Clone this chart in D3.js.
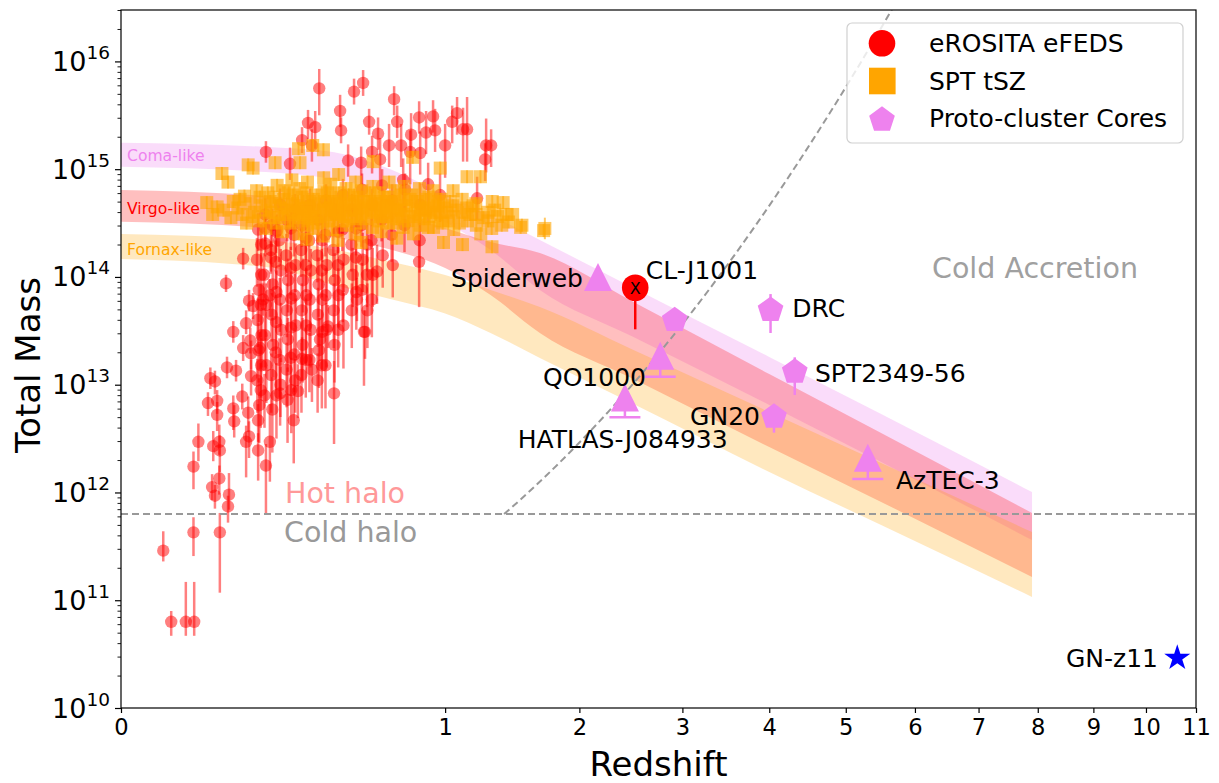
<!DOCTYPE html>
<html><head><meta charset="utf-8">
<script src="https://cdn.jsdelivr.net/npm/d3@7"></script>
<style>body{margin:0;background:#fff}svg{font-family:"DejaVu Sans",sans-serif}</style>
</head><body><svg id="c" width="1219" height="783"></svg>
<script>
// ---------- data ----------
const xTicks = [0,1,2,3,4,5,6,7,8,9,10,11];
const yTickExps = [10,11,12,13,14,15,16];

// progenitor mass bands (log10 M) sampled at redshifts bandZ
const bandZ   = [0, 0.2, 0.4, 0.7, 1.0, 1.3, 1.67, 2.5, 4, 5.5, 7.9];
const comaHi  = [15.246,15.206,15.168,14.992,14.760,14.575,14.343,13.897,13.257,12.728,12.004];
const comaLo  = [15.023,14.974,14.918,14.760,14.510,14.250,13.879,13.443,12.812,12.283,11.559];
const virgoHi = [14.807,14.751,14.695,14.603,14.454,14.324,14.222,13.767,13.099,12.552,11.810];
const virgoLo = [14.513,14.454,14.380,14.250,14.083,13.832,13.480,13.053,12.422,11.912,11.216];
const fornaxHi= [14.398,14.343,14.268,14.139,14.018,13.879,13.721,13.322,12.747,12.274,11.633];
const fornaxLo= [14.166,14.092,13.944,13.790,13.660,13.480,13.248,12.821,12.190,11.698,11.030];

// eROSITA eFEDS clusters: [z, log10 M, err down (dex), err up (dex)]
const erosita = [
[0.017,11.46,0.10,0.18],[0.024,10.80,0.13,0.10],[0.040,10.80,0.13,0.37],[0.051,10.80,0.13,0.37],
[0.050,11.63,0.22,0.14],[0.050,12.24,0.21,0.14],[0.057,12.47,0.18,0.17],[0.076,13.06,0.10,0.10],
[0.084,13.03,0.12,0.10],[0.072,12.83,0.12,0.10],[0.088,12.85,0.12,0.10],[0.088,12.72,0.15,0.12],
[0.081,12.43,0.14,0.14],[0.092,12.47,0.12,0.16],[0.093,12.39,0.20,0.14],[0.079,12.05,0.12,0.12],
[0.084,11.97,0.12,0.10],[0.092,12.13,0.15,0.12],[0.111,11.98,0.14,0.20],[0.109,11.87,0.15,0.10],
[0.093,11.63,0.56,0.18],[0.107,13.16,0.10,0.10],[0.126,13.13,0.10,0.10],[0.120,13.49,0.10,0.10],
[0.105,13.94,0.08,0.08],[0.120,12.78,0.20,0.12],[0.122,12.66,0.15,0.15],[0.140,12.89,0.12,0.12],
[0.142,13.34,0.12,0.12],[0.149,13.57,0.10,0.12],[0.149,12.47,0.33,0.15],[0.159,13.41,0.12,0.12],
[0.161,13.29,0.15,0.12],[0.161,13.08,0.18,0.15],[0.156,13.78,0.10,0.10],[0.166,13.73,0.12,0.12],
[0.154,12.74,0.18,0.15],[0.156,12.52,0.20,0.14],[0.179,12.67,0.20,0.15],[0.179,12.39,0.28,0.16],
[0.200,12.25,0.45,0.20],[0.211,12.47,0.37,0.35],[0.184,13.34,0.20,0.15],[0.192,13.79,0.15,0.15],
[0.211,13.83,0.20,0.15],[0.241,12.92,0.30,0.25],[0.298,12.94,0.25,0.25],[0.432,12.92,0.47,0.30],
[0.347,13.14,0.30,0.20],[0.312,13.24,0.20,0.20],[0.377,13.42,0.20,0.20],[0.567,13.49,0.25,0.20],
[0.408,13.54,0.20,0.20],[0.530,13.79,0.20,0.20],
[0.374,15.75,0.25,0.18],[0.517,15.72,0.12,0.12],[0.558,15.80,0.12,0.12],[0.710,15.65,0.15,0.12],
[0.457,15.54,0.15,0.15],[0.461,15.36,0.12,0.12],[0.586,15.44,0.12,0.12],[0.726,15.44,0.15,0.15],
[0.629,15.33,0.15,0.15],[0.333,15.43,0.15,0.12],[0.359,15.39,0.20,0.15],[0.312,15.27,0.12,0.12],
[0.347,15.22,0.15,0.15],[0.846,15.48,0.15,0.15],[0.927,15.49,0.15,0.15],[1.075,15.52,0.20,0.15],
[1.044,15.44,0.20,0.15],[0.939,15.36,0.20,0.20],[1.114,15.37,0.30,0.20],[1.140,15.37,0.30,0.30],
[0.886,15.34,0.20,0.20],[0.801,15.32,0.20,0.20],[1.000,15.22,0.30,0.20],[0.684,15.22,0.20,0.20],
[0.747,15.22,0.20,0.20],[1.269,15.22,0.25,0.25],[1.304,15.22,0.20,0.15],[1.262,15.09,0.20,0.15],
[0.600,15.16,0.20,0.15],[0.796,15.16,0.30,0.20],[0.852,15.15,0.20,0.20],[0.639,15.09,0.25,0.20],
[0.491,15.08,0.15,0.15],[0.549,15.06,0.20,0.15],[0.200,15.16,0.10,0.10],[0.272,15.05,0.15,0.15],
[0.142,14.17,0.10,0.10],[0.198,14.45,0.12,0.12],[0.198,14.31,0.12,0.12],[0.214,14.18,0.15,0.15],
[0.232,14.43,0.15,0.15],[0.846,14.14,0.42,0.25],[1.207,14.73,0.20,0.20],[0.898,14.86,0.35,0.20],
[0.758,14.90,0.30,0.20],[0.562,13.49,0.50,0.20],[0.624,14.05,0.30,0.25],
[0.179,14.44,0.20,0.15],[0.176,14.16,0.25,0.20],[0.181,13.88,0.30,0.20],[0.178,13.60,0.25,0.20],[0.180,13.32,0.30,0.25],[0.177,13.04,0.30,0.20],[0.182,12.81,0.35,0.25],
[0.198,14.58,0.15,0.15],[0.195,14.02,0.25,0.20],[0.200,13.74,0.30,0.20],[0.197,13.46,0.30,0.25],[0.201,13.18,0.35,0.25],[0.196,12.90,0.30,0.20],
[0.217,14.48,0.20,0.15],[0.214,14.25,0.20,0.20],[0.219,13.93,0.30,0.20],[0.216,13.65,0.25,0.20],[0.220,13.37,0.30,0.25],[0.215,13.09,0.35,0.20],[0.218,12.77,0.40,0.30],
[0.241,14.67,0.15,0.15],[0.238,14.34,0.20,0.20],[0.243,14.06,0.25,0.20],[0.240,13.79,0.30,0.20],[0.244,13.51,0.30,0.25],[0.239,13.23,0.35,0.20],[0.242,13.00,0.30,0.25],
[0.263,14.53,0.20,0.15],[0.260,14.20,0.20,0.20],[0.266,13.97,0.30,0.20],[0.262,13.69,0.25,0.25],[0.265,13.42,0.30,0.20],[0.261,13.14,0.35,0.25],[0.264,12.86,0.40,0.30],
[0.288,14.62,0.15,0.15],[0.285,14.39,0.20,0.20],[0.290,14.11,0.25,0.20],[0.287,13.83,0.30,0.20],[0.291,13.55,0.30,0.25],[0.286,13.28,0.35,0.25],[0.289,13.04,0.30,0.20],[0.284,12.67,0.40,0.30],
[0.312,14.48,0.20,0.15],[0.309,14.25,0.25,0.20],[0.315,13.97,0.30,0.20],[0.311,13.69,0.30,0.25],[0.314,13.37,0.35,0.25],[0.310,13.09,0.35,0.30],
[0.340,14.67,0.15,0.15],[0.337,14.34,0.20,0.20],[0.343,14.06,0.30,0.20],[0.339,13.79,0.30,0.25],[0.342,13.51,0.35,0.25],[0.338,13.23,0.30,0.25],
[0.370,14.53,0.20,0.15],[0.367,14.20,0.25,0.20],[0.372,13.93,0.30,0.25],[0.369,13.65,0.30,0.25],[0.373,13.32,0.35,0.30],[0.368,13.04,0.30,0.25],
[0.400,14.71,0.15,0.15],[0.397,14.39,0.20,0.20],[0.403,14.11,0.30,0.20],[0.399,13.83,0.30,0.25],[0.402,13.51,0.35,0.25],[0.398,13.18,0.40,0.30],
[0.432,14.58,0.20,0.15],[0.429,14.25,0.25,0.20],[0.435,13.97,0.30,0.25],[0.431,13.69,0.35,0.25],[0.434,13.37,0.35,0.30],
[0.469,14.76,0.15,0.15],[0.466,14.44,0.20,0.20],[0.472,14.16,0.30,0.20],[0.468,13.88,0.30,0.25],[0.471,13.55,0.40,0.30],
[0.508,14.62,0.20,0.15],[0.505,14.30,0.25,0.20],[0.511,14.02,0.30,0.25],[0.507,13.69,0.35,0.25],
[0.553,14.81,0.15,0.15],[0.550,14.48,0.20,0.20],[0.556,14.16,0.30,0.25],[0.552,13.88,0.35,0.25],
[0.600,14.67,0.20,0.15],[0.597,14.34,0.25,0.20],[0.603,14.02,0.30,0.25],[0.599,13.79,0.35,0.30],
[0.649,14.85,0.15,0.15],[0.646,14.53,0.20,0.20],[0.652,14.20,0.30,0.25],
[0.700,14.71,0.20,0.15],[0.697,14.39,0.25,0.20],[0.703,14.11,0.30,0.25],
[0.768,14.81,0.20,0.15],[0.765,14.48,0.25,0.20],[0.852,14.67,0.25,0.20],[0.849,14.34,0.30,0.25],[0.969,14.76,0.25,0.20],
[0.187,14.30,0.20,0.15],[0.187,14.02,0.25,0.20],[0.186,13.74,0.30,0.20],[0.188,13.46,0.30,0.25],[0.187,13.18,0.30,0.25],[0.186,12.95,0.35,0.25],
[0.229,14.42,0.20,0.15],[0.228,14.14,0.25,0.20],[0.230,13.86,0.30,0.20],[0.229,13.58,0.30,0.25],[0.228,13.30,0.35,0.25],[0.230,12.90,0.40,0.30],
[0.275,14.45,0.20,0.15],[0.274,14.08,0.25,0.20],[0.276,13.80,0.30,0.25],[0.275,13.53,0.30,0.25],[0.274,13.25,0.35,0.25],[0.276,12.95,0.40,0.30],
[0.326,14.36,0.20,0.20],[0.325,14.11,0.25,0.20],[0.327,13.83,0.30,0.25],[0.326,13.55,0.35,0.25],[0.325,13.23,0.35,0.30],
[0.385,14.34,0.20,0.20],[0.384,14.06,0.25,0.20],[0.386,13.79,0.30,0.25],[0.385,13.49,0.35,0.25],[0.384,13.18,0.40,0.30],
[0.449,14.42,0.20,0.20],[0.448,14.11,0.30,0.20],[0.450,13.83,0.30,0.25],[0.449,13.51,0.35,0.30],
[0.526,14.45,0.25,0.20],[0.525,14.18,0.30,0.20],[0.527,13.86,0.35,0.25],
[0.577,14.30,0.25,0.20],[0.576,14.02,0.30,0.25],[0.578,13.69,0.35,0.25]
];

// SPT tSZ clusters: [z, log10 M, err (dex)]
const spt = [
[0.070,14.69,0.06],[0.088,14.65,0.06],[0.097,14.96,0.06],[0.109,14.88,0.06],[0.080,14.58,0.06],[0.100,14.62,0.06],
[0.115,14.55,0.06],[0.120,14.70,0.06],[0.130,14.64,0.06],[0.140,14.58,0.06],[0.145,14.75,0.06],[0.150,14.50,0.06],
[0.154,15.04,0.06],[0.166,15.01,0.06],[0.160,14.68,0.06],[0.170,14.60,0.06],[0.175,14.80,0.06],[0.184,14.74,0.06],[0.180,14.52,0.06],
[0.200,14.45,0.06],[0.200,14.62,0.06],[0.205,14.78,0.06],[0.210,14.55,0.06],[0.212,14.70,0.06],
[0.226,15.06,0.06],[0.228,14.66,0.06],[0.230,14.50,0.06],[0.232,14.85,0.06],
[0.250,14.58,0.06],[0.252,14.72,0.06],[0.248,14.42,0.06],[0.255,14.80,0.06],[0.256,14.64,0.06],
[0.280,14.68,0.06],[0.282,14.52,0.06],[0.278,14.90,0.06],[0.284,14.60,0.06],[0.281,14.76,0.06],
[0.300,15.19,0.06],[0.305,15.06,0.06],[0.302,14.55,0.06],[0.298,14.70,0.06],[0.304,14.82,0.06],[0.301,14.40,0.06],[0.306,14.63,0.06],
[0.330,14.48,0.06],[0.332,14.66,0.06],[0.328,14.78,0.06],[0.334,14.58,0.06],[0.331,14.88,0.06],[0.329,14.35,0.06],
[0.350,15.22,0.06],[0.352,14.72,0.06],[0.348,14.56,0.06],[0.354,14.64,0.06],[0.351,14.45,0.06],
[0.390,15.18,0.06],[0.388,14.62,0.06],[0.392,14.80,0.06],[0.386,14.50,0.06],[0.394,14.70,0.06],[0.389,14.38,0.06],[0.391,14.92,0.06],
[0.420,14.58,0.06],[0.418,14.74,0.06],[0.422,14.66,0.06],[0.424,14.44,0.06],[0.419,14.86,0.06],
[0.450,14.52,0.06],[0.448,14.68,0.06],[0.452,14.78,0.06],[0.454,14.60,0.06],[0.447,14.34,0.06],[0.451,14.95,0.06],
[0.480,14.70,0.06],[0.478,14.56,0.06],[0.482,14.82,0.06],[0.484,14.48,0.06],[0.479,14.64,0.06],
[0.520,14.62,0.06],[0.518,14.76,0.06],[0.522,14.40,0.06],[0.524,14.88,0.06],[0.519,14.54,0.06],[0.521,14.70,0.06],
[0.550,14.66,0.06],[0.548,14.50,0.06],[0.552,14.80,0.06],[0.554,14.58,0.06],[0.549,14.32,0.06],
[0.605,15.07,0.06],[0.600,14.72,0.06],[0.598,14.60,0.06],[0.602,14.46,0.06],[0.604,14.84,0.06],[0.599,14.66,0.06],
[0.640,14.56,0.06],[0.642,14.70,0.06],[0.638,14.78,0.06],[0.644,14.42,0.06],[0.641,14.62,0.06],
[0.680,14.74,0.06],[0.682,14.60,0.06],[0.678,14.50,0.06],[0.684,14.88,0.06],[0.681,14.66,0.06],
[0.720,14.68,0.06],[0.722,14.54,0.06],[0.718,14.80,0.06],[0.724,14.36,0.06],[0.721,14.62,0.06],
[0.760,14.58,0.06],[0.762,14.72,0.06],[0.758,14.46,0.06],[0.764,14.84,0.06],
[0.810,15.11,0.06],[0.808,14.64,0.06],[0.812,14.52,0.06],[0.806,14.76,0.06],[0.814,14.40,0.06],
[0.850,14.70,0.06],[0.852,14.58,0.06],[0.848,14.82,0.06],[0.854,14.48,0.06],
[0.900,14.62,0.06],[0.902,14.74,0.06],[0.898,14.46,0.06],[0.904,14.56,0.06],
[0.930,14.46,0.06],[0.932,14.68,0.06],[0.928,14.80,0.06],
[0.970,15.01,0.06],[0.968,14.60,0.06],[0.972,14.52,0.06],[0.974,14.72,0.06],[0.990,14.32,0.06],[0.992,14.64,0.06],
[1.050,14.80,0.06],[1.052,14.56,0.06],[1.048,14.66,0.06],[1.054,14.44,0.06],
[1.110,14.30,0.06],[1.112,14.60,0.06],[1.108,14.72,0.06],[1.140,14.93,0.06],[1.142,14.52,0.06],[1.138,14.64,0.06],
[1.200,14.58,0.06],[1.202,14.48,0.06],[1.198,14.68,0.06],[1.230,14.93,0.06],[1.232,14.40,0.06],
[1.280,14.60,0.06],[1.282,14.52,0.06],[1.310,14.28,0.06],[1.312,14.70,0.06],[1.308,14.45,0.06],
[1.350,14.56,0.06],[1.380,14.48,0.06],[1.390,14.69,0.06],[1.430,14.51,0.06],[1.460,14.58,0.06],
[1.520,14.46,0.06],[1.530,14.48,0.06],[1.700,14.43,0.06],[1.710,14.45,0.10],
[0.215,14.60,0.06],[0.222,14.74,0.06],[0.238,14.55,0.06],[0.242,14.68,0.06],[0.262,14.62,0.06],[0.268,14.78,0.06],
[0.272,14.50,0.06],[0.290,14.66,0.06],[0.294,14.58,0.06],[0.312,14.74,0.06],[0.316,14.52,0.06],[0.320,14.64,0.06],
[0.338,14.70,0.06],[0.342,14.54,0.06],[0.360,14.60,0.06],[0.364,14.76,0.06],[0.368,14.50,0.06],[0.375,14.68,0.06],
[0.380,14.56,0.06],[0.400,14.64,0.06],[0.405,14.78,0.06],[0.410,14.52,0.06],[0.430,14.70,0.06],[0.435,14.56,0.06],
[0.440,14.62,0.06],[0.460,14.74,0.06],[0.465,14.58,0.06],[0.470,14.66,0.06],[0.490,14.52,0.06],[0.495,14.76,0.06],
[0.500,14.62,0.06],[0.510,14.68,0.06],[0.530,14.56,0.06],[0.535,14.74,0.06],[0.540,14.64,0.06],[0.560,14.70,0.06],
[0.570,14.54,0.06],[0.580,14.62,0.06],[0.590,14.78,0.06],[0.615,14.58,0.06],[0.620,14.68,0.06],[0.630,14.52,0.06],
[0.650,14.64,0.06],[0.660,14.74,0.06],[0.670,14.56,0.06],[0.690,14.62,0.06],[0.700,14.70,0.06],[0.710,14.50,0.06],
[0.735,14.64,0.06],[0.740,14.76,0.06],[0.750,14.56,0.06],[0.775,14.66,0.06],[0.785,14.52,0.06],[0.795,14.72,0.06],
[0.825,14.60,0.06],[0.835,14.70,0.06],[0.865,14.62,0.06],[0.875,14.54,0.06],[0.885,14.72,0.06],[0.915,14.60,0.06],
[0.945,14.58,0.06],[0.955,14.66,0.06],[0.985,14.50,0.06],[1.010,14.60,0.06],[1.030,14.70,0.06],[1.070,14.62,0.06],
[1.090,14.50,0.06],[1.160,14.58,0.06],[1.180,14.66,0.06],[1.250,14.55,0.06],[1.330,14.62,0.06],[1.410,14.58,0.06],
[0.135,14.72,0.06],[0.165,14.56,0.06],[0.190,14.66,0.06],[0.325,14.60,0.06],[0.415,14.62,0.06],[0.585,14.70,0.06],
[0.665,14.66,0.06],[0.745,14.62,0.06],[0.820,14.56,0.06],[0.880,14.64,0.06],[0.960,14.70,0.06],[1.020,14.52,0.06]
];

// proto-cluster cores
const protoNames  = ["Spiderweb","CL-J1001","QO1000","HATLAS-J084933","","DRC","SPT2349-56","GN20","AzTEC-3","GN-z11"];
const protoZ      = [2.166, 2.517, 2.768, 2.417, 2.918, 4.016, 4.321, 4.059, 5.309, 10.62];
const protoLogM   = [14.00, 13.90, 13.268,12.881,13.599,13.693,13.120,12.702,12.322,10.464];
const protoErrLo  = [0,     0.386, 0.194, 0.183, 0,     0.213, 0.215, 0.147, 0.197, 0];
const protoErrHi  = [0,     0,     0,     0,     0,     0.148, 0.134, 0.10,  0,     0];
const protoMarker = ["tri","circle","tri","tri","pent","pent","pent","pent","tri","star"];

// threshold lines
const coldHaloLogM = 11.8;
const accretionLine = [[1.397, 11.8], [5.70, 16.53]];   // linear in z vs log10 M

// ---------- drawing ----------
const L=121,R=1196,T=10,B=708;
const svg = d3.select("#c");
const x = d3.scaleSqrt().domain([0,11]).range([L,R]);
const y = d3.scaleLog().domain([1e10,3e16]).range([B,T]);
const M = v => Math.pow(10,v);

svg.append("defs").append("clipPath").attr("id","clip")
  .append("rect").attr("x",L).attr("y",T).attr("width",R-L).attr("height",B-T);
const plot = svg.append("g").attr("clip-path","url(#clip)");

// bands
const bands = [
  {lo:comaLo, hi:comaHi, color:"#ee82ee", a:0.28},
  {lo:virgoLo, hi:virgoHi, color:"#ff0000", a:0.25},
  {lo:fornaxLo, hi:fornaxHi, color:"#ffa500", a:0.25}
];
bands.forEach(b=>{
  const area = d3.area().curve(d3.curveMonotoneX).x((d,i)=>x(bandZ[i])).y0((d,i)=>y(M(b.lo[i]))).y1((d,i)=>y(M(b.hi[i])));
  plot.append("path").datum(bandZ).attr("d",area).attr("fill",b.color).attr("fill-opacity",b.a);
});

// eROSITA
const eg = plot.append("g");
eg.selectAll("line").data(erosita).join("line")
  .attr("x1",d=>x(d[0])).attr("x2",d=>x(d[0]))
  .attr("y1",d=>y(M(d[1]-d[2]))).attr("y2",d=>y(M(d[1]+d[3])))
  .attr("stroke","red").attr("stroke-opacity",0.5).attr("stroke-width",2.5);
eg.selectAll("circle").data(erosita).join("circle")
  .attr("cx",d=>x(d[0])).attr("cy",d=>y(M(d[1]))).attr("r",6.2)
  .attr("fill","red").attr("fill-opacity",0.5);

// SPT
const sg = plot.append("g");
sg.selectAll("line").data(spt).join("line")
  .attr("x1",d=>x(d[0])).attr("x2",d=>x(d[0]))
  .attr("y1",d=>y(M(d[1]-d[2]))).attr("y2",d=>y(M(d[1]+d[2])))
  .attr("stroke","orange").attr("stroke-opacity",0.6).attr("stroke-width",2);
sg.selectAll("rect").data(spt).join("rect")
  .attr("x",d=>x(d[0])-6.5).attr("y",d=>y(M(d[1]))-6.5).attr("width",13).attr("height",13)
  .attr("fill","orange").attr("fill-opacity",0.6);

// band labels
const bandLabels = [["Coma-like",15.078,"#ee82ee"],["Virgo-like",14.581,"red"],["Fornax-like",14.204,"orange"]];
svg.selectAll(".bl").data(bandLabels).join("text").attr("class","bl")
  .attr("x",127).attr("y",d=>y(M(d[1]))).attr("fill",d=>d[2]).attr("font-size",15.6).text(d=>d[0]);

// marker paths
function triPath(s){return `M0,${-s}L${-s},${s}L${s},${s}Z`;}
function pentPath(r){const p=[];for(let i=0;i<5;i++){const a=-Math.PI/2+i*2*Math.PI/5;p.push([r*Math.cos(a),r*Math.sin(a)]);}return "M"+p.join("L")+"Z";}
function starPath(r){const p=[];for(let i=0;i<10;i++){const a=-Math.PI/2+i*Math.PI/5;const rr=i%2?r*0.381966:r;p.push([rr*Math.cos(a),rr*Math.sin(a)]);}return "M"+p.join("L")+"Z";}

// proto-cluster markers
const pg = svg.append("g");
protoZ.forEach((z,i)=>{
  const cx=x(z), cy=y(M(protoLogM[i]));
  const m = protoMarker[i];
  const col = m==="circle"?"red":(m==="star"?"blue":"#ee82ee");
  if(protoErrLo[i]>0||protoErrHi[i]>0){
    const y1=y(M(protoLogM[i]-protoErrLo[i])), y2=y(M(protoLogM[i]+protoErrHi[i]));
    pg.append("line").attr("x1",cx).attr("x2",cx).attr("y1",y1).attr("y2",y2)
      .attr("stroke",col).attr("stroke-width",2.5);
    if(m==="tri"){
      pg.append("line").attr("x1",cx-15.5).attr("x2",cx+15.5).attr("y1",y1).attr("y2",y1)
        .attr("stroke",col).attr("stroke-width",2.5);
    }
  }
  if(m==="circle"){
    pg.append("circle").attr("cx",cx).attr("cy",cy).attr("r",13.3).attr("fill","red");
    pg.append("text").attr("x",cx).attr("y",cy+5.8).attr("text-anchor","middle").attr("font-size",16).text("X");
  } else {
    const d = m==="tri"?triPath(14):(m==="pent"?pentPath(13.5):starPath(13.7));
    pg.append("path").attr("d",d).attr("transform",`translate(${cx},${cy})`).attr("fill",col);
  }
});

// threshold lines
plot.append("line").attr("x1",L).attr("x2",R).attr("y1",y(M(coldHaloLogM))).attr("y2",y(M(coldHaloLogM)))
  .attr("stroke","#999").attr("stroke-width",2).attr("stroke-dasharray","7,4");
const accPts = d3.range(0,41).map(k=>{
  const t=k/40; return [accretionLine[0][0]+t*(accretionLine[1][0]-accretionLine[0][0]),
                        accretionLine[0][1]+t*(accretionLine[1][1]-accretionLine[0][1])];});
plot.append("path").attr("d",d3.line().x(d=>x(d[0])).y(d=>y(M(d[1])))(accPts))
  .attr("fill","none").attr("stroke","#999").attr("stroke-width",2).attr("stroke-dasharray","7,4");

// proto labels
const protoLabelPos = [
  ["Spiderweb",583,286.7,"end"],["CL-J1001",645.7,279.3,"start"],["QO1000",646,385.7,"end"],
  ["HATLAS-J084933",517.7,447.7,"start"],["DRC",792.3,317.3,"start"],["SPT2349-56",815,381.7,"start"],
  ["GN20",760,425,"end"],["AzTEC-3",896,489,"start"],["GN-z11",1158,667.3,"end"]];
svg.selectAll(".pl").data(protoLabelPos).join("text").attr("class","pl")
  .attr("x",d=>d[1]).attr("y",d=>d[2]).attr("text-anchor",d=>d[3]).attr("font-size",25).text(d=>d[0]);

// region labels
svg.append("text").attr("x",932).attr("y",278.3).attr("font-size",28.5).attr("fill","#a0a0a0").text("Cold Accretion");
svg.append("text").attr("x",285).attr("y",502.7).attr("font-size",28.5).attr("fill","#ff9999").text("Hot halo");
svg.append("text").attr("x",284).attr("y",542.3).attr("font-size",28.5).attr("fill","#999").text("Cold halo");

// axes
const xa = svg.append("g").attr("transform",`translate(0,${B})`)
  .call(d3.axisBottom(x).tickValues(xTicks).tickSize(5).tickPadding(6).tickFormat(d3.format("d")));
xa.select(".domain").remove();
xa.selectAll("text").attr("font-size",22.6).attr("font-family","DejaVu Sans").attr("fill","#000");
xa.selectAll("line").attr("stroke-width",1.2);

const majors = yTickExps.map(e=>M(e));
const minors = [];
for(let e=10;e<=16;e++) for(let k=2;k<=9;k++){ const v=k*M(e); if(v<=3e16) minors.push(v); }
const ya = svg.append("g").attr("transform",`translate(${L},0)`)
  .call(d3.axisLeft(y).tickValues(majors).tickSize(6).tickFormat(""));
ya.select(".domain").remove();
ya.selectAll("line").attr("stroke-width",1.2);
const ym = svg.append("g").attr("transform",`translate(${L},0)`)
  .call(d3.axisLeft(y).tickValues(minors).tickSize(3.5).tickFormat(""));
ym.select(".domain").remove();
ym.selectAll("line").attr("stroke-width",0.9);

const yl = svg.selectAll(".yl").data(yTickExps).join("text").attr("class","yl")
  .attr("x",110).attr("y",e=>y(M(e))+9.5).attr("text-anchor","end").attr("font-size",27);
yl.append("tspan").text("10");
yl.append("tspan").attr("font-size",18.5).attr("dy",-12).text(e=>e);

svg.append("rect").attr("x",L).attr("y",T).attr("width",R-L).attr("height",B-T)
  .attr("fill","none").attr("stroke","#000").attr("stroke-width",1.2);

svg.append("text").attr("x",(L+R)/2).attr("y",776).attr("text-anchor","middle").attr("font-size",34).text("Redshift");
svg.append("text").attr("transform",`translate(40,${(T+B)/2+6}) rotate(-90)`).attr("text-anchor","middle")
  .attr("font-size",34).text("Total Mass");

// legend
const lg = svg.append("g");
lg.append("rect").attr("x",847).attr("y",23).attr("width",336).attr("height",120).attr("rx",5)
  .attr("fill","#fff").attr("fill-opacity",0.8).attr("stroke","#d0d0d0").attr("stroke-width",1.2);
const legendItems = [["eROSITA eFEDS",43.3,"circle"],["SPT tSZ",81,"square"],["Proto-cluster Cores",118.3,"pent"]];
legendItems.forEach(it=>{
  if(it[2]==="circle") lg.append("circle").attr("cx",882).attr("cy",it[1]).attr("r",13.3).attr("fill","red");
  else if(it[2]==="square") lg.append("rect").attr("x",869).attr("y",it[1]-13.3).attr("width",26.6).attr("height",26.6).attr("fill","orange");
  else lg.append("path").attr("d",pentPath(13.5)).attr("transform",`translate(882,${it[1]+1.5})`).attr("fill","#ee82ee");
  lg.append("text").attr("x",929).attr("y",it[1]+9).attr("font-size",25).text(it[0]);
});
</script></body></html>
